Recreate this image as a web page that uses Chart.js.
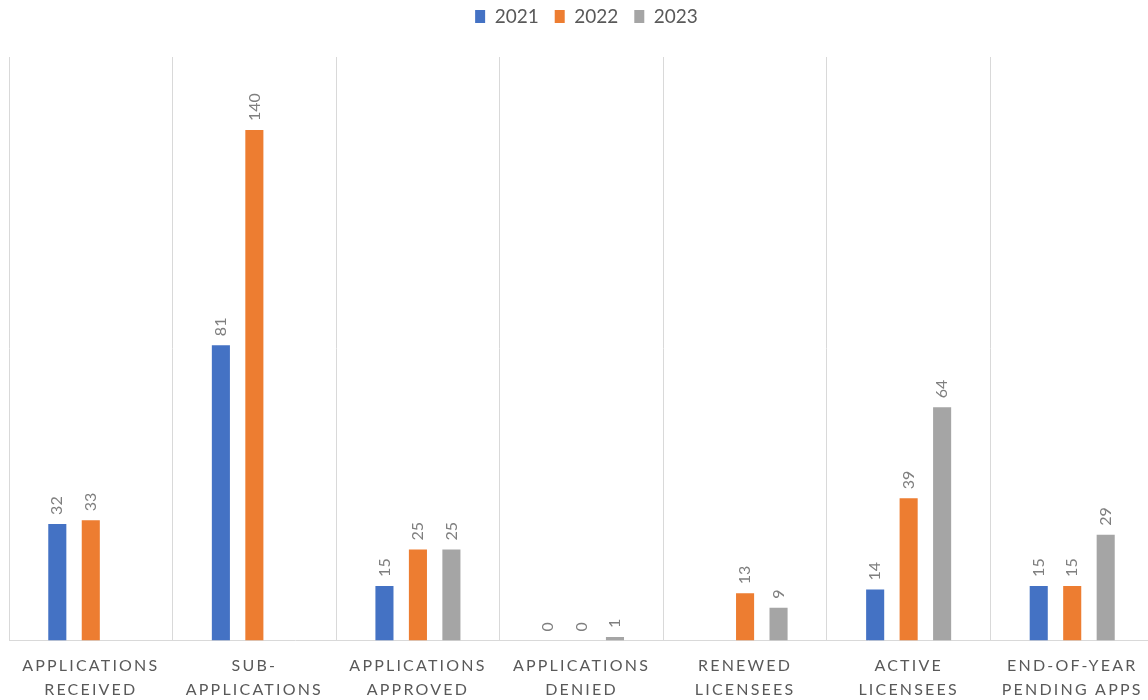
<!DOCTYPE html>
<html>
<head>
<meta charset="utf-8">
<script src="https://cdn.jsdelivr.net/npm/chart.js@4.4.1/dist/chart.umd.min.js"></script>
<style>
  html, body { margin: 0; padding: 0; background: #ffffff; overflow: hidden; }
  #wrap { position: absolute; left: 0; top: 0; width: 1172px; height: 700px; }
</style>
</head>
<body>
<div id="wrap"><canvas id="c"></canvas></div>
<script>
const categories = [
  ['APPLICATIONS', 'RECEIVED'],
  ['SUB-', 'APPLICATIONS'],
  ['APPLICATIONS', 'APPROVED'],
  ['APPLICATIONS', 'DENIED'],
  ['RENEWED', 'LICENSEES'],
  ['ACTIVE', 'LICENSEES'],
  ['END-OF-YEAR', 'PENDING APPS']
];
const seriesNames = ['2021', '2022', '2023'];
const values2021 = [32, 81, 15, 0, null, 14, 15];
const values2022 = [33, 140, 25, 0, 13, 39, 15];
const values2023 = [null, null, 25, 1, 9, 64, 29];
const colors = ['#4472C4', '#ED7D31', '#A5A5A5'];

const FONT = 'Lato, "Open Sans", sans-serif';

const helper = {
  id: 'helper',
  beforeLayout(chart) {
    const lg = chart.legend;
    if (lg && !lg._wrappedFit) {
      const orig = lg.fit.bind(lg);
      lg.fit = function () { orig(); this.height = 66; };
      lg._wrappedFit = true;
    }
  },
  afterLayout(chart) {
    const lg = chart.legend;
    if (lg) { lg.left += 5; lg.right += 5; }
    const s = chart.scales.x;
    if (s && !s._wrappedLabels) {
      const orig = s.drawLabels.bind(s);
      s.drawLabels = function (area) {
        const ctx = this.ctx;
        ctx.save();
        ctx.letterSpacing = '2.2px';
        orig(area);
        ctx.restore();
      };
      s._wrappedLabels = true;
    }
  },
  afterDatasetsDraw(chart) {
    const ctx = chart.ctx;
    ctx.save();
    ctx.font = '16px ' + FONT;
    ctx.fillStyle = '#7f7f7f';
    ctx.textAlign = 'left';
    ctx.textBaseline = 'middle';
    chart.data.datasets.forEach((ds, i) => {
      const meta = chart.getDatasetMeta(i);
      meta.data.forEach((el, j) => {
        const v = ds.data[j];
        if (v === null || v === undefined) return;
        ctx.save();
        ctx.translate(el.x, el.y - 9);
        ctx.rotate(-Math.PI / 2);
        ctx.fillText(String(v), 0, 0);
        ctx.restore();
      });
    });
    ctx.restore();
  }
};

new Chart(document.getElementById('c'), {
  type: 'bar',
  data: {
    labels: categories,
    datasets: [
      { label: seriesNames[0], data: values2021, backgroundColor: colors[0] },
      { label: seriesNames[1], data: values2022, backgroundColor: colors[1] },
      { label: seriesNames[2], data: values2023, backgroundColor: colors[2] }
    ]
  },
  options: {
    responsive: true,
    maintainAspectRatio: false,
    animation: false,
    layout: { padding: { left: 9, right: 18, top: -9, bottom: -15 } },
    datasets: {
      bar: { categoryPercentage: 0.614, barPercentage: 0.54, borderWidth: 0 }
    },
    plugins: {
      legend: {
        position: 'top',
        labels: {
          boxWidth: 10,
          boxHeight: 13,
          padding: 16,
          color: '#595959',
          font: { family: FONT, size: 19 }
        }
      },
      tooltip: { enabled: false }
    },
    scales: {
      x: {
        grid: { display: true, color: '#d9d9d9', drawTicks: false, offset: true },
        border: { display: true, color: '#d9d9d9', width: 1 },
        ticks: {
          color: '#595959',
          font: { family: FONT, size: 16, lineHeight: 1.45 },
          padding: 14,
          maxRotation: 0,
          autoSkip: false
        }
      },
      y: {
        display: false,
        min: 0,
        max: 160
      }
    }
  },
  plugins: [helper]
});
</script>
</body>
</html>
